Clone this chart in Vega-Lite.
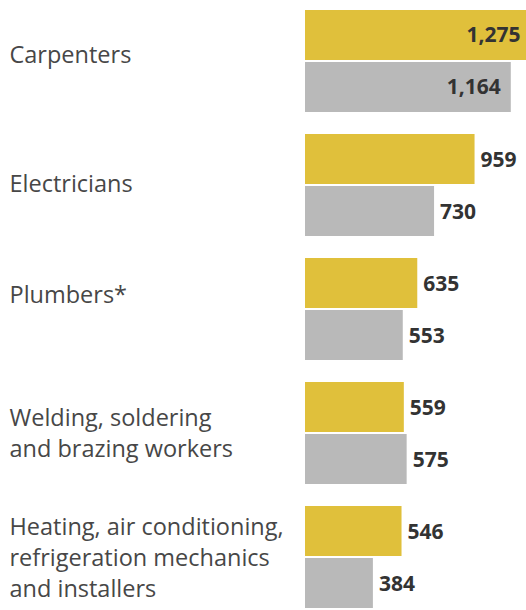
{
  "$schema": "https://vega.github.io/schema/vega-lite/v6.json",
  "width": 221,
  "height": 610,
  "autosize": {"type": "none"},
  "padding": {"left": 305, "top": 0, "right": 0, "bottom": 0},
  "background": "white",
  "config": {"view": {"stroke": null}},
  "data": {
    "values": [
      {"occupation": "Carpenters", "series": "Series 1", "value": 1275},
      {"occupation": "Carpenters", "series": "Series 2", "value": 1164},
      {"occupation": "Electricians", "series": "Series 1", "value": 959},
      {"occupation": "Electricians", "series": "Series 2", "value": 730},
      {"occupation": "Plumbers*", "series": "Series 1", "value": 635},
      {"occupation": "Plumbers*", "series": "Series 2", "value": 553},
      {"occupation": "Welding, soldering\nand brazing workers", "series": "Series 1", "value": 559},
      {"occupation": "Welding, soldering\nand brazing workers", "series": "Series 2", "value": 575},
      {"occupation": "Heating, air conditioning,\nrefrigeration mechanics\nand installers", "series": "Series 1", "value": 546},
      {"occupation": "Heating, air conditioning,\nrefrigeration mechanics\nand installers", "series": "Series 2", "value": 384}
    ]
  },
  "encoding": {
    "y": {
      "field": "occupation",
      "type": "nominal",
      "sort": null,
      "scale": {"paddingInner": 0.177, "paddingOuter": 0.0484, "align": 0.83},
      "axis": {
        "title": null,
        "domain": false,
        "ticks": false,
        "labelAlign": "left",
        "labelBaseline": "middle",
        "labelPadding": 296,
        "labelLimit": 300,
        "labelFont": "Open Sans",
        "labelFontSize": 23.5,
        "labelColor": "#474747",
        "labelLineHeight": 31,
        "labelExpr": "split(datum.label, '\\n')",
        "labelOffset": {
          "condition": [
            {"test": "datum.label == 'Carpenters'", "value": -5},
            {"test": "datum.label == 'Electricians'", "value": 0},
            {"test": "datum.label == 'Plumbers*'", "value": -13},
            {"test": "indexof(datum.label, 'Welding') >= 0", "value": -14},
            {"test": "indexof(datum.label, 'Heating') >= 0", "value": -29}
          ],
          "value": 0
        }
      }
    },
    "yOffset": {"field": "series", "scale": {"paddingInner": 0.04, "paddingOuter": 0}},
    "x": {"field": "value", "type": "quantitative", "scale": {"domain": [0, 1250], "nice": false}, "axis": null}
  },
  "layer": [
    {
      "mark": {"type": "bar", "clip": true},
      "encoding": {
        "color": {"field": "series", "scale": {"domain": ["Series 1", "Series 2"], "range": ["#e0c03b", "#b9b9b9"]}, "legend": null}
      }
    },
    {
      "transform": [{"filter": "datum.value > 1000"}],
      "mark": {"type": "text", "align": "right", "baseline": "middle", "dx": -10, "dy": 1, "font": "Open Sans", "fontWeight": "bold", "fontSize": 21, "color": "#333333"},
      "encoding": {"text": {"field": "value", "type": "quantitative", "format": ","}}
    },
    {
      "transform": [{"filter": "datum.value <= 1000"}],
      "mark": {"type": "text", "align": "left", "baseline": "middle", "dx": 6, "dy": 2, "font": "Open Sans", "fontWeight": "bold", "fontSize": 21, "color": "#333333"},
      "encoding": {"text": {"field": "value", "type": "quantitative", "format": ","}}
    }
  ]
}
